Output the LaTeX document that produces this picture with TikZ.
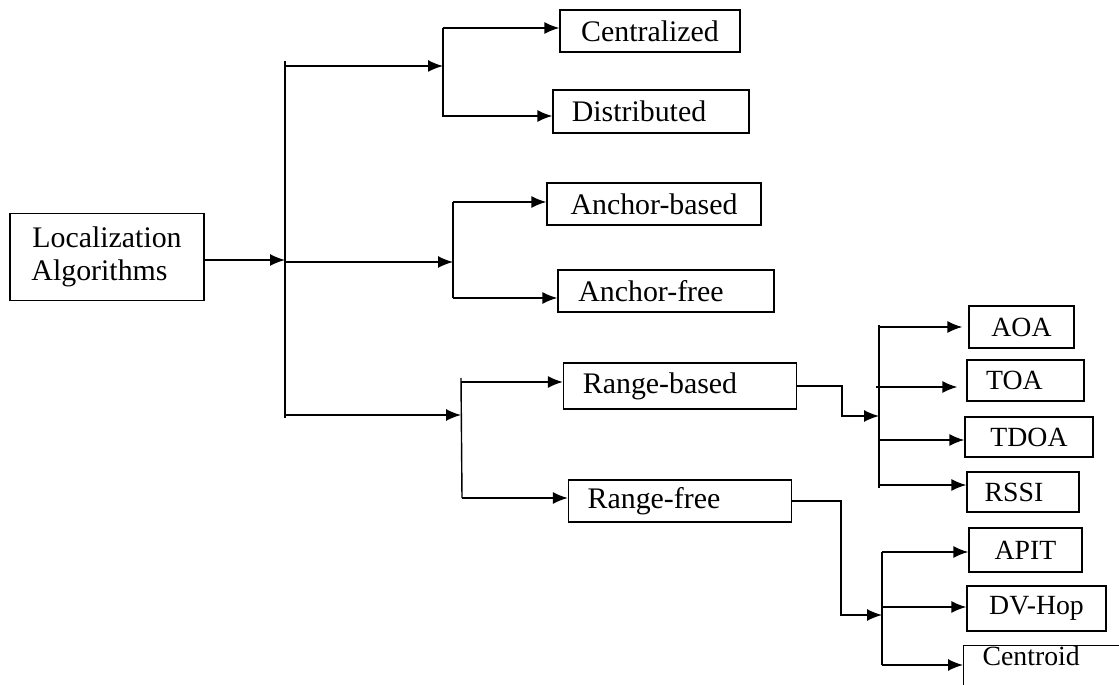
\documentclass[tikz,border=0pt]{standalone}
\usepackage{fontspec}
\setmainfont{Liberation Serif}
\usetikzlibrary{arrows.meta}
\begin{document}
\begin{tikzpicture}[
      x=0.02cm, y=-0.02cm,
      font=\fontsize{17}{18.5}\selectfont,
      kasten/.style={draw, line width=0.8pt, inner sep=0pt, align=center},
      kleinkasten/.style={kasten, font=\fontsize{15.8}{18}\selectfont},
      linie/.style={line width=0.8pt},
      pfeil/.style={linie, -{Latex[length=0.3cm, width=0.24cm]}}
    ]
      \clip (0,0) rectangle (1119,685);
      \node[kasten, minimum width=3.88cm, minimum height=1.74cm] (loc) at (107,257) {Localization\\Algorithms\hspace*{0.3cm}};
      \node[kasten, minimum width=3.6cm, minimum height=0.84cm] (zentral) at (650,31) {Centralized};
      \node[kasten, minimum width=3.92cm, minimum height=0.86cm] (verteilt) at (651,111.5) {Distributed\hspace*{0.48cm}};
      \node[kasten, minimum width=4.28cm, minimum height=0.84cm] (ankerbasiert) at (654,204) {Anchor-based};
      \node[kasten, minimum width=4.32cm, minimum height=0.84cm] (ankerfrei) at (666,291) {Anchor-free\hspace*{0.6cm}};
      \node[kasten, minimum width=4.66cm, minimum height=0.92cm] (bereichbasiert) at (680,386) {Range-based\hspace*{0.8cm}};
      \node[kasten, minimum width=4.46cm, minimum height=0.84cm] (bereichfrei) at (680,501) {Range-free\hspace*{1.04cm}};
      \node[kleinkasten, minimum width=2.1cm, minimum height=0.84cm] (aoa) at (1021.5,327) {AOA};
      \node[kleinkasten, minimum width=2.34cm, minimum height=0.82cm] (toa) at (1025.5,380.5) {TOA\hspace*{0.44cm}};
      \node[kleinkasten, minimum width=2.56cm, minimum height=0.8cm] (tdoa) at (1029,437) {TDOA};
      \node[kleinkasten, minimum width=2.24cm, minimum height=0.8cm] (rssi) at (1023,492) {RSSI\hspace*{0.36cm}};
      \node[kleinkasten, minimum width=2.26cm, minimum height=0.88cm] (apit) at (1025.5,550) {APIT};
      \node[kleinkasten, minimum width=2.78cm, minimum height=0.9cm] (dvhop) at (1036.5,608.5) {DV-Hop};
      \node[kleinkasten, anchor=north west, minimum width=3.5cm, text height=0.4cm, text depth=0.9cm] (centroid) at (963,645) {Centroid\hspace*{0.8cm}};
      \coordinate (stammoben) at (285,61);
      \coordinate (stammunten) at (285,418);
      \coordinate (hm) at (285,260);
      \coordinate (a1) at (285,66);
      \coordinate (a2) at (443,66);
      \coordinate (a3) at (443,28);
      \coordinate (a4) at (443,117);
      \coordinate (b1) at (285,262);
      \coordinate (b2) at (453,262);
      \coordinate (b3) at (453,202);
      \coordinate (b4) at (453,298);
      \coordinate (c1) at (285,415);
      \coordinate (c2) at (461,415);
      \coordinate (c3) at (461,378);
      \coordinate (c4) at (462,498);
      \coordinate (knick1) at (842,416);
      \coordinate (d1) at (879,416);
      \coordinate (d2) at (879,325);
      \coordinate (d3) at (879,488);
      \coordinate (knick2) at (841,615);
      \coordinate (e1) at (882,615);
      \coordinate (e2) at (882,552);
      \coordinate (e3) at (882,665);
      \draw[pfeil] (loc.east |- hm) -- (hm);
      \draw[linie] (stammoben) -- (stammunten);
      \draw[pfeil] (a1) -- (a2);
      \draw[linie] (a3) -- (a4);
      \draw[pfeil] (a3) -- (a3 -| zentral.west);
      \draw[pfeil] (443,116) -- (443,116 -| verteilt.west);
      \draw[pfeil] (b1) -- (b2);
      \draw[linie] (b3) -- (b4);
      \draw[pfeil] (b3) -- (b3 -| ankerbasiert.west);
      \draw[pfeil] (b4) -- (b4 -| ankerfrei.west);
      \draw[pfeil] (c1) -- (c2);
      \draw[linie] (c3) -- (c4);
      \draw[pfeil] (461,382) -- (461,382 -| bereichbasiert.west);
      \draw[pfeil] (c4) -- (c4 -| bereichfrei.west);
      \draw[pfeil] (bereichbasiert.east) -| (knick1) -- (d1);
      \draw[linie] (d2) -- (d3);
      \draw[pfeil, shorten >=0.12cm] (879,327) -- (879,327 -| aoa.west);
      \draw[pfeil, shorten >=0.18cm] (876,387) -- (876,387 -| toa.west);
      \draw[pfeil] (879,440) -- (879,440 -| tdoa.west);
      \draw[pfeil] (879,485) -- (879,485 -| rssi.west);
      \draw[pfeil] (bereichfrei.east) -| (knick2) -- (e1);
      \draw[linie] (e2) -- (e3);
      \draw[pfeil] (e2) -- (e2 -| apit.west);
      \draw[pfeil] (882,607) -- (882,607 -| dvhop.west);
      \draw[pfeil] (e3) -- (e3 -| centroid.west);
    \end{tikzpicture}
\end{document}
